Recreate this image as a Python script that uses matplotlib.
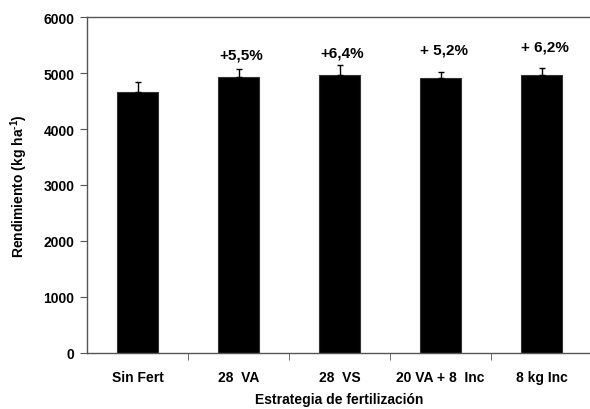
import matplotlib.pyplot as plt
import numpy as np

# rendimiento por estrategia de fertilizacion
categorias = ['Sin Fert', '28  VA', '28  VS', '20 VA + 8  Inc', '8 kg Inc']
rendimiento = [4662, 4920, 4961, 4908, 4956]
error_sup = [185, 160, 175, 107, 136]
etiquetas = ['', '+5,5%', '+6,4%', '+ 5,2%', '+ 6,2%']
etiqueta_y = [0, 5338, 5373, 5427, 5481]

plt.rcParams['font.family'] = ['Liberation Sans', 'DejaVu Sans']
plt.rcParams['font.weight'] = 'bold'
plt.rcParams['mathtext.fontset'] = 'custom'
plt.rcParams['mathtext.rm'] = 'Liberation Sans:bold'
plt.rcParams['mathtext.it'] = 'Liberation Sans:bold'
plt.rcParams['mathtext.bf'] = 'Liberation Sans:bold'

fig = plt.figure(figsize=(5.9, 4.1), dpi=100)
ax = fig.add_axes([87/590, 56/410, 505/590, 336/410])

x = np.arange(len(categorias))
ax.bar(x, rendimiento, width=0.41, color='black', edgecolor='#333333', linewidth=0.8,
       yerr=[np.zeros(len(x)), error_sup], capsize=2.5,
       error_kw=dict(ecolor='black', elinewidth=1, capthick=1))

for xi, txt, yi in zip(x, etiquetas, etiqueta_y):
    if txt:
        ax.text(xi + 0.03, yi, txt, ha='center', va='center', fontsize=11, fontweight='bold')

ax.set_xlim(-0.5, 4.5)
ax.set_ylim(0, 6000)
ax.set_yticks(np.arange(0, 6001, 1000))
ax.set_xticks(x)
ax.set_xticklabels(categorias)
ax.set_xticks(np.arange(0.5, 4.5, 1), minor=True)
ax.tick_params(axis='x', which='major', length=0, pad=12, labelsize=10)
ax.tick_params(axis='x', which='minor', length=5, direction='out', color='#555555')
ax.tick_params(axis='y', length=5, direction='out', labelsize=10, pad=4, color='#555555')

for s in ['top', 'bottom', 'left']:
    ax.spines[s].set_color('#555555')
    ax.spines[s].set_linewidth(1)
ax.spines['right'].set_visible(False)

ax.set_ylabel(r'Rendimiento (kg ha$^{\text{-1}}$)', fontsize=10, fontweight='bold', labelpad=10)
ax.set_xlabel('Estrategia de fertilización', fontsize=10, fontweight='bold', labelpad=6)

fig.savefig('out.png', dpi=100)
